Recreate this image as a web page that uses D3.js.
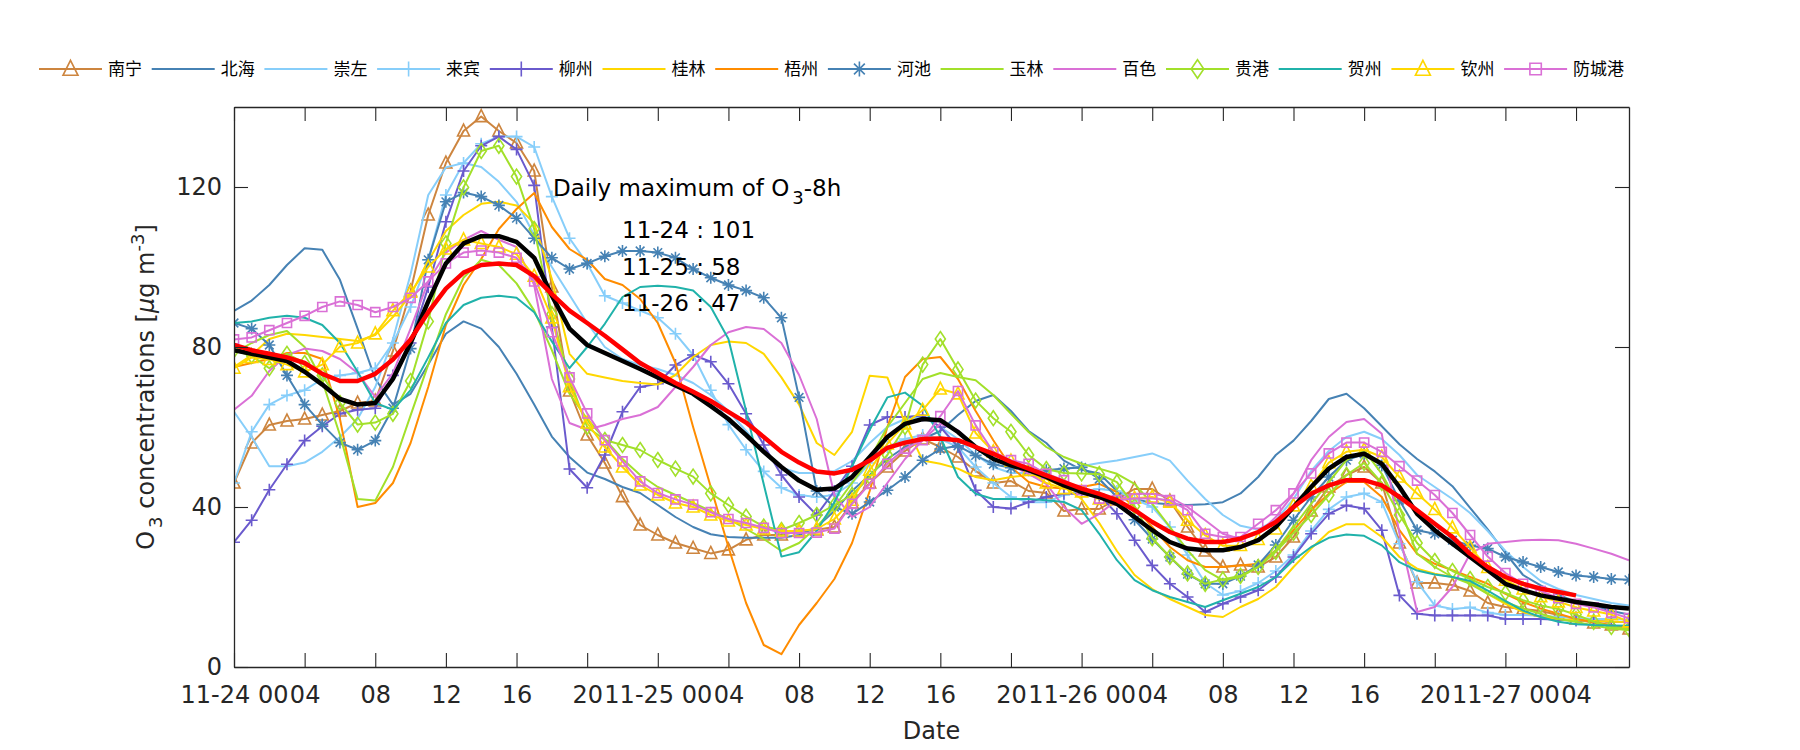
<!DOCTYPE html>
<html><head><meta charset="utf-8">
<script src="https://cdn.jsdelivr.net/npm/d3@7"></script>
<style>
body{margin:0;background:#fff}
svg{display:block;background:#fff}
</style>
</head><body>
<svg id="chart" width="1800" height="750"></svg>
<script>
// ---------------- data ----------------
const cityNames = ["南宁","北海","崇左","来宾","柳州","桂林","梧州","河池","玉林","百色","贵港","贺州","钦州","防城港"];

const xTickValues = [0,4,8,12,16,20,24,28,32,36,40,44,48,52,56,60,64,68,72,76];
const xTickLabels = ["11-24 00","04","08","12","16","20","11-25 00","04","08","12","16","20","11-26 00","04","08","12","16","20","11-27 00","04"];
const yTickValues = [0,40,80,120];

const nanning = [46,56,60.5,61.5,62,63,64,66,66.5,79, 94,113,126,134,137.6,134,131,124,95,69, 58,51,42.6,35.5,33,31,29.7,28.4,29.3,31.8, 33,33,34,34.3,35,41,46,50,54,57, 55,52.5,49,46,46.5,44,43.5,39,39.5,39.5, 42,44.5,44.5,41.5,35,29,25,25.5,25,27.5, 32.5,39,45,48,50,46,31,21,21,20.5, 19,16,15,14.5,14,13,12,11,10.5,9.5];
const beihai = [89,91.6,95.5,100.5,104.7,104.3,96.8,84.6,72,65.6, 68.3,75.6,83.3,86.4,84.6,80,73.3,65.6,57.6,52.5, 48.6,47,45,43.5,40.5,37.5,35,33.2,32.5,32.3, 32.3,32.3,33,35,39,44,48,52,55,57, 59,63,66.5,68,64,59,56,51.6,49.3,48.4, 44,42,41,40.7,40.5,40.7,41.2,43.4,47.5,53, 56.6,61.5,67,68.3,64.7,60.2,55.7,52,48.9,45.2, 39.8,34.4,28.5,23,20.4,18,16.3,15.4,14,13.1];
const chongzuo = [63.8,57.5,50.2,50.2,51.1,53.8,57.5,62,70,81.9, 98.2,118,124.9,126,125,121.3,116.3,108,100,93, 86,80,77,75.5,74.5,73,71,68,64,59, 53.5,49.8,48.5,48.5,49,51.5,56,60,62,62.5, 60,57,53,50,48.5,48.5,49,49.5,50.2,51, 51.6,52.5,53.4,51.6,46.6,42,38,35.3,34.4,36.7, 42,49,54,57.5,58.8,57,53,48,45,42, 38.5,34,29,25,21.5,19.5,18,17,16,15.4];
const laibin = [46,58.8,65.6,67.9,69.2,72,72.9,73.5,74.7,81, 90,101.8,118,126,130.8,132.6,132.6,130,117.6,107.2, 100.9,92.8,91,89.1,87.3,83.3,78,69.2,60.6,54.3, 48.9,44.8,43,42.5,43,46,51,55,57,58, 57,55,50,46,42.5,41.2,41.2,43,44,44.5, 44,42,40,35,28,21,18,19,21,24, 28,34,39.4,42.5,43.4,41.2,30.8,21.3,15.4,14.5, 14.9,13.6,13,13,12.8,12.5,12.3,12,12,11.8];
const liuzhou = [31.2,36.7,44.3,50.7,56.6,60.2,63.3,64.3,64.7,72.9, 81,95,111.3,124,130.3,132.6,129.4,120.4,85,49.5, 44.8,53,63.8,70,70.8,75.5,78,76.3,70.8,63.3, 55.5,48,42.5,38,44,50.2,60.5,62.5,62.5,62.9, 60,55,44.2,40,39.6,41.2,42.5,43.3,43.3,43, 38.3,31.7,25.4,20.8,17.5,13.75,15.8,17.5,19.2,22.5, 27.5,33.3,38.3,40.4,39.6,34.2,17.9,13.3,12.9,12.9, 12.9,12.9,12,12,12,11.8,11.6,11.5,11.3,11.25];
const guilin = [75,78,82,83.3,83,82.5,82,81.5,83,87.5, 93,101.5,109,113,115.8,116.3,115.4,110.9,97,78.3, 73.3,72.4,71.5,71,70.6,73,77.5,80.5,81.4,81, 78.3,72.4,65.6,56,53,58.8,72.8,72.4,61,51.6, 50.8,49.6,47.5,46.7,47.5,48,47,45,42,36, 29,23,19.5,17,15,13,12.5,15,17,20, 25,29.6,33.75,35.7,35.7,32.5,27.5,24.6,23.3,22.5, 21.25,18.3,15.8,13.75,12.5,12,11.7,11.5,11.3,11.25];
const wuzhou = [75,76,77,78.5,78.5,77,62,40,41,46, 56,70,85.5,95.5,102,109.5,114.5,118.5,110,104.5, 101.8,97,95.5,92,86,76,60,45,30,16, 5.5,3.2,10.5,16,22,31,44,60,72.5,77, 77.5,72,64,56.7,50,46.25,45,44.6,45,45.8, 43.75,40,35,30,26.7,25,25,25.4,25.8,29.2, 34.2,39.2,43.3,46.25,46.25,42.5,34.2,28.3,25.8,24.2, 22.5,20.8,18.3,16.25,14.6,13.3,12,11.25,10.4,9.6];
const hechi = [86,84.6,80.5,72.9,65.6,60.6,56.1,54.3,56.6,64.7, 79.6,101.8,116.3,118.6,117.6,115.4,112.2,107.2,102.3,99.5, 100.9,102.7,104,104,103.6,102.3,99.5,97.3,95.5,94.1, 92.3,87.3,67.4,44,40,38.3,41.25,44.2,47.5,51.7, 54.5,55.3,52.9,50.7,49.8,49.2,49.2,49.6,49.9,47, 42.5,36.8,32,27.5,23.2,20.8,20.8,22.7,25.5,30.5, 36.7,42.5,47.5,51.7,53.3,50.4,41.7,34.2,33.3,31.7, 30.4,29.6,27.5,26.25,25,23.75,22.9,22.5,22,21.8];
const yulin = [78.5,81,83,84,80,71.5,58,42,41.6,50, 62.9,75.6,88.2,97.3,101.8,100.5,95.9,89.1,79.2,68.3, 62,57,52,48,45,43,41,39,37,34.5, 32,29,31,35,40,46,52,60,66,72, 73.5,72.5,71.7,68,63.3,58.75,55,52.5,50.8,49.6, 48.3,45.8,40.8,35,29.2,24.2,21.7,22.5,25,29.2, 35,40.8,46.25,51.7,54.2,48.3,40,28.3,25,22.5, 20.8,18.3,16.25,14.6,13.3,12,11.25,10.4,9.6,9.2];
const baise = [64.3,67.8,74,78,79.6,79,77,73.5,67.5,73.5, 84.6,96.4,103.6,106.8,109,106.8,105,95.5,72,61, 59.3,60.5,62,63,65,70,75,80.5,83.7,85, 84.5,81,73,62,43,37.5,40,46,52,56.7, 60.8,59.2,55,52,50.4,48.3,45.8,40,35.8,38.3, 41.7,43.3,43.3,42.5,40,36.7,33.3,32,33.3,37.5, 43.3,51.7,57.5,61.25,62,58.3,33.3,13.75,15,20, 28.3,30.8,31.25,31.7,31.8,31.7,30.8,29.6,28.3,26.7];
const guigang = [79.2,77.8,74.7,78.3,76,72.9,66,60.6,61.1,63.3, 71.5,86.4,105.9,119.9,129,130.3,122.6,109.5,88.2,72, 60,56.75,55.5,54.25,51.75,49.6,47.6,43.4,40.5,37.6, 35.1,34.25,36,38,40.5,43,47.5,53,60,75.6, 82,74.4,66.6,62.2,58.8,53,49.5,48.5,48.4,48.2, 46.2,40.2,32.2,27.5,23.4,20.8,21.9,22.8,25,28.8, 33.5,38,43,48,51,46,38,31,26.5,24, 22,20,18.5,16.7,15.4,14.5,13.1,11.3,10,9.5];
const hezhou = [86,86.4,87.3,87.8,87.3,85.5,81,73.8,66,64.3, 69.2,77.4,86,90.5,92.3,92.8,92.3,88.7,81.4,74.7, 80,85.8,92.5,95,95.3,95,94.1,90,82,64, 45.7,27.6,28.7,34,41.2,50.2,59.3,67.4,68.6,65.3, 57.5,47.5,43.3,42,42,42,41.7,41.25,39.2,33.3, 26.7,21.7,19.2,17.5,16.25,15,16.7,18.3,20,22.5, 26.7,30,32.3,33.1,32.8,30.4,26.2,24.1,23.1,22.5, 21.5,19.1,16.5,14.1,12.5,11.3,10.7,10.5,10.4,10.3];
const qinzhou = [74.7,77.4,76.9,75.6,73.8,75.6,80.1,81,83.3,89.1, 93.7,100,104.5,106.8,105.9,105,103.2,97.7,87.3,70.1, 61,55,50,45.5,43,41,40,38,36.5,35.5, 34.5,34,34,34.5,37,41.7,49.2,55.8,60.8,64.2, 69.5,68.3,58.5,53.8,51.5,49.2,46,44.6,43.8,42, 41.8,42.2,42.5,41.2,36.7,32.9,30.3,30.4,31.9,34.5, 40.3,45.2,51.1,53.8,54.3,52.5,47.5,43.4,39.4,34.8, 29.9,24.9,21.7,19.5,17.6,16.3,14.9,14,13.1,11.3];
const fangchenggang = [81.9,82.4,84.2,86,87.8,90,91.4,90.5,88.7,90, 92.3,96.4,100.9,103.6,104.1,103.6,102.3,96.4,83.7,72.4, 63.4,56.7,51.4,46.4,43.5,41.9,40.6,38.7,37,36, 34.8,33.5,33.5,33.6,34.6,40.8,45.8,50.8,54.6,56.7, 62.7,69,60.4,53.75,51.7,50.8,48.3,46.7,44.2,42.1, 41.7,42.1,42.1,41.7,39.2,33.3,32.5,32.5,35.8,39.2, 43.4,48.4,53.4,56.1,56.1,53.8,50.2,46.6,43,38.5, 33,27.6,23.5,20.8,19,17.2,15.8,14.9,13.6,12.2];
// regional mean (black) and O3-8h (red)
const regionalMean = [79.2,78.3,77.4,76.5,73.8,70.6,67,65.6,66,72, 81,91.4,100.9,105.9,107.7,107.7,106.3,102.3,92.8,84.6, 80.5,78.5,76.5,74.5,72.4,70.4,68.3,65.2,62,58, 53.8,50,46.6,44.3,44.6,47.5,52.5,57.5,60.8,62, 61.7,58.75,55,52,50.4,49.2,47.5,45.4,43.75,42.5, 40.8,37.5,34.2,31.25,29.6,29.2,29.2,30,31.7,35, 40,45,49.6,52.5,53.3,50.8,45,38.3,34.2,30.8, 27.5,24.2,20.8,19.2,17.9,17.1,16.25,15.7,15,14.6];
const o3EightHour = [80.5,79.2,78.3,77.4,76,73.3,71.5,71.5,73.3,76.9, 81.9,88.7,94.6,98.6,100.5,100.9,100.5,97.7,93.2,89.1, 86,82.8,79.4,76,73.5,71,68.8,66.5,63.8,61.1, 57.5,53.8,51.1,48.9,48.4,49.3,51.6,54.8,56.1,57, 57.1,56.7,55,53.3,51.25,49.6,47.9,46.25,44.6,43.3, 41.7,39.2,36.25,33.75,32.1,31.25,31.25,32.1,33.75,36.25, 40,43.3,45.4,46.7,46.7,45.4,42.5,39.2,35.8,32.5, 28.3,25,22.5,20.8,19.6,18.75,17.9,null,null,null];

const annotationTitle = "Daily maximum of O";
const annotationLines = ["11-24 : 101","11-25 : 58","11-26 : 47"];

// ---------------- styles ----------------
const seriesValues = [nanning,beihai,chongzuo,laibin,liuzhou,guilin,wuzhou,hechi,yulin,baise,guigang,hezhou,qinzhou,fangchenggang];
const seriesStyle = [
  {color:"#CD853F", marker:"triangle"},
  {color:"#4682B4", marker:null},
  {color:"#87CEFA", marker:null},
  {color:"#87CEFA", marker:"plus"},
  {color:"#6A5ACD", marker:"plus"},
  {color:"#FFD700", marker:null},
  {color:"#FF8C00", marker:null},
  {color:"#4682B4", marker:"star"},
  {color:"#A2E02A", marker:null},
  {color:"#DA70D6", marker:null},
  {color:"#A2E02A", marker:"diamond"},
  {color:"#20B2AA", marker:null},
  {color:"#FFD700", marker:"triangle"},
  {color:"#DA70D6", marker:"square"}
];

const W = 1800, H = 750;
const M = {left:234, right:1629, top:107, bottom:667};
const FONT = "'DejaVu Sans', 'Liberation Sans', sans-serif";
const CJK = "'Noto Sans CJK SC', 'Noto Sans', sans-serif";
const AX = "#262626";

const svg = d3.select("#chart");

const x = d3.scaleLinear().domain([0,79]).range([M.left,M.right]);
const y = d3.scaleLinear().domain([0,140]).range([M.bottom,M.top]);

function markerPath(type, s){
  switch(type){
    case "triangle": return `M0,${-s*0.58}L${s*0.5},${s*0.42}L${-s*0.5},${s*0.42}Z`;
    case "plus": return `M${-s/2},0H${s/2}M0,${-s/2}V${s/2}`;
    case "star": { const d=s*0.36; return `M${-s/2},0H${s/2}M0,${-s/2}V${s/2}M${-d},${-d}L${d},${d}M${-d},${d}L${d},${-d}`; }
    case "diamond": return `M0,${-s*0.62}L${s*0.42},0L0,${s*0.62}L${-s*0.42},0Z`;
    case "square": return `M${-s*0.38},${-s*0.38}h${s*0.76}v${s*0.76}h${-s*0.76}Z`;
  }
  return "";
}

svg.append("defs").append("clipPath").attr("id","plotclip")
  .append("rect").attr("x",M.left).attr("y",M.top).attr("width",M.right-M.left).attr("height",M.bottom-M.top);

const plot = svg.append("g").attr("clip-path","url(#plotclip)");

const line = d3.line()
  .defined(d => d.v !== null)
  .x(d => x(d.h)).y(d => y(d.v));

seriesValues.forEach((vals,i)=>{
  const st = seriesStyle[i];
  const pts = vals.map((v,h)=>({h,v}));
  const g = plot.append("g");
  g.append("path").datum(pts).attr("d",line)
    .attr("fill","none").attr("stroke",st.color).attr("stroke-width",2).attr("stroke-linejoin","round");
  if(st.marker){
    g.selectAll("path.mk").data(pts.filter(d=>d.v!==null)).join("path").attr("class","mk")
      .attr("transform",d=>`translate(${x(d.h)},${y(d.v)})`)
      .attr("d",markerPath(st.marker,12))
      .attr("fill","none").attr("stroke",st.color).attr("stroke-width",1.6);
  }
});

plot.append("path").datum(regionalMean.map((v,h)=>({h,v}))).attr("d",line)
  .attr("fill","none").attr("stroke","#000").attr("stroke-width",4.5).attr("stroke-linejoin","round");
plot.append("path").datum(o3EightHour.map((v,h)=>({h,v}))).attr("d",line)
  .attr("fill","none").attr("stroke","#FF0000").attr("stroke-width",4.5).attr("stroke-linejoin","round");

// ---------------- axes ----------------
function styleAxis(g){
  g.attr("font-size",24).attr("font-family",FONT);
  g.selectAll("path.domain").attr("stroke",AX).attr("stroke-width",1.3);
  g.selectAll(".tick line").attr("stroke",AX).attr("stroke-width",1.1);
  g.selectAll(".tick text").attr("fill",AX);
}
svg.append("g").attr("transform",`translate(0,${M.bottom})`)
  .call(d3.axisBottom(x).tickValues(xTickValues).tickFormat((d,i)=>xTickLabels[i]).tickSizeInner(-14).tickSizeOuter(0).tickPadding(19))
  .call(styleAxis);
svg.append("g").attr("transform",`translate(0,${M.top})`)
  .call(d3.axisTop(x).tickValues(xTickValues).tickFormat("").tickSizeInner(-14).tickSizeOuter(0))
  .call(styleAxis);
svg.append("g").attr("transform",`translate(${M.left},0)`)
  .call(d3.axisLeft(y).tickValues(yTickValues).tickSizeInner(-14).tickSizeOuter(0).tickPadding(12))
  .call(styleAxis);
svg.append("g").attr("transform",`translate(${M.right},0)`)
  .call(d3.axisRight(y).tickValues(yTickValues).tickFormat("").tickSizeInner(-14).tickSizeOuter(0))
  .call(styleAxis);

// axis labels
svg.append("text").attr("x",(M.left+M.right)/2).attr("y",739).attr("text-anchor","middle")
  .attr("font-family",FONT).attr("font-size",24).attr("fill",AX).text("Date");

const yl = svg.append("text").attr("transform",`translate(154,${(M.top+M.bottom)/2}) rotate(-90)`)
  .attr("text-anchor","middle").attr("font-family",FONT).attr("font-size",24).attr("fill",AX);
yl.append("tspan").text("O");
yl.append("tspan").attr("dy",8).attr("dx",3).attr("font-size",18).text("3");
yl.append("tspan").attr("dy",-8).text(" concentrations [");
yl.append("tspan").attr("font-style","italic").text("μ");
yl.append("tspan").text("g m");
yl.append("tspan").attr("dy",-10).attr("font-size",18).text("-3");
yl.append("tspan").attr("dy",10).text("]");

// annotation
const at = svg.append("text").attr("x",553).attr("y",196).attr("font-family",FONT).attr("font-size",23).attr("fill","#000");
at.append("tspan").text(annotationTitle);
at.append("tspan").attr("dy",8).attr("dx",3).attr("font-size",18).text("3");
at.append("tspan").attr("dy",-8).text("-8h");
const annY = [238,275,311];
annotationLines.forEach((t,i)=>{
  svg.append("text").attr("x",622).attr("y",annY[i]).attr("font-family",FONT).attr("font-size",23).attr("fill","#000").text(t);
});

// legend
const legY = 69;
cityNames.forEach((name,i)=>{
  const st = seriesStyle[i];
  const x0 = 39 + i*112.7;
  const g = svg.append("g");
  g.append("line").attr("x1",x0).attr("x2",x0+63).attr("y1",legY).attr("y2",legY)
    .attr("stroke",st.color).attr("stroke-width",2);
  if(st.marker){
    g.append("path").attr("transform",`translate(${x0+31.5},${legY})`)
      .attr("d",markerPath(st.marker,15)).attr("fill","none").attr("stroke",st.color).attr("stroke-width",1.6);
  }
  g.append("text").attr("x",x0+69).attr("y",legY).attr("dy","0.35em")
    .attr("font-family",CJK).attr("font-size",17).attr("fill","#000").text(name);
});
</script>
</body></html>
